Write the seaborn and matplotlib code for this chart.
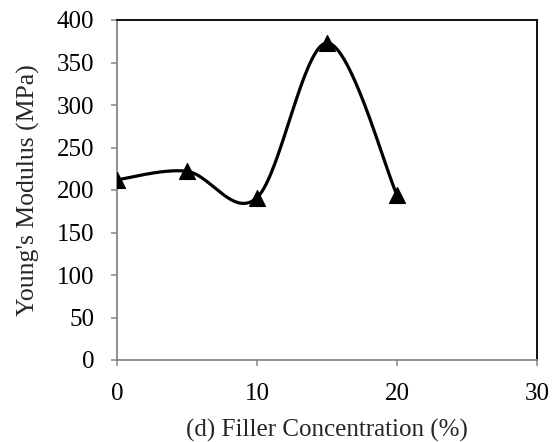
import numpy as np
import pandas as pd
import matplotlib
matplotlib.use("Agg")
import matplotlib.pyplot as plt
import seaborn as sns

# Filler concentration (%) and measured Young's modulus (MPa)
concentration = [0, 5, 10, 15, 20]
modulus = [212, 222, 191, 373, 194]

x_ticks = [0, 10, 20, 30]
y_ticks = [0, 50, 100, 150, 200, 250, 300, 350, 400]

sns.set_theme(style="white")
plt.rcParams["font.family"] = ["Liberation Serif", "DejaVu Serif"]


def smooth_curve(xs, ys, steps=60):
    """Cubic Bezier smoothing through the points (Catmull-Rom style tangents)."""
    p = np.column_stack([xs, ys]).astype(float)
    ext = np.vstack([p[0], p, p[-1]])
    out = []
    t = np.linspace(0, 1, steps)[:, None]
    for i in range(len(p) - 1):
        p0, p1, p2, p3 = ext[i], ext[i + 1], ext[i + 2], ext[i + 3]
        c1 = p1 + (p2 - p0) / 6.0
        c2 = p2 - (p3 - p1) / 6.0
        seg = ((1 - t) ** 3) * p1 + 3 * ((1 - t) ** 2) * t * c1 + 3 * (1 - t) * t ** 2 * c2 + t ** 3 * p2
        out.append(seg if i == 0 else seg[1:])
    return np.vstack(out)


df = pd.DataFrame({"Filler": concentration, "Modulus": modulus})
curve = smooth_curve(df["Filler"].values, df["Modulus"].values)
curve_df = pd.DataFrame({"Filler": curve[:, 0], "Modulus": curve[:, 1]})

fig = plt.figure(figsize=(5.59, 4.42), dpi=100)
ax = fig.add_axes([117 / 559, 82 / 442, 420 / 559, 340 / 442])

sns.lineplot(data=curve_df, x="Filler", y="Modulus", ax=ax, color="black",
             linewidth=2.3, sort=False, estimator=None)
sns.scatterplot(data=df, x="Filler", y="Modulus", ax=ax, marker="^", s=130,
                color="black", edgecolor="black", zorder=5)

ax.set_xlim(0, 30)
ax.set_ylim(0, 400)
ax.set_xticks(x_ticks)
ax.set_yticks(y_ticks)
ax.set_xlabel("(d) Filler Concentration (%)", fontsize=18, labelpad=10)
ax.set_ylabel("Young's Modulus (MPa)", fontsize=18.5, labelpad=12)

gray = "#868686"
for side in ["left", "bottom"]:
    ax.spines[side].set_color(gray)
    ax.spines[side].set_linewidth(1.3)
for side in ["top", "right"]:
    ax.spines[side].set_color("black")
    ax.spines[side].set_linewidth(1.3)
    ax.spines[side].set_visible(True)

ax.tick_params(axis="both", which="major", direction="out", length=4.5,
               width=1.1, color=gray, labelsize=18, pad=6,
               left=True, bottom=True, labelcolor="black")
ax.tick_params(axis="y", pad=12)
ax.tick_params(axis="x", pad=12)

fig.savefig("out.png", dpi=100)
